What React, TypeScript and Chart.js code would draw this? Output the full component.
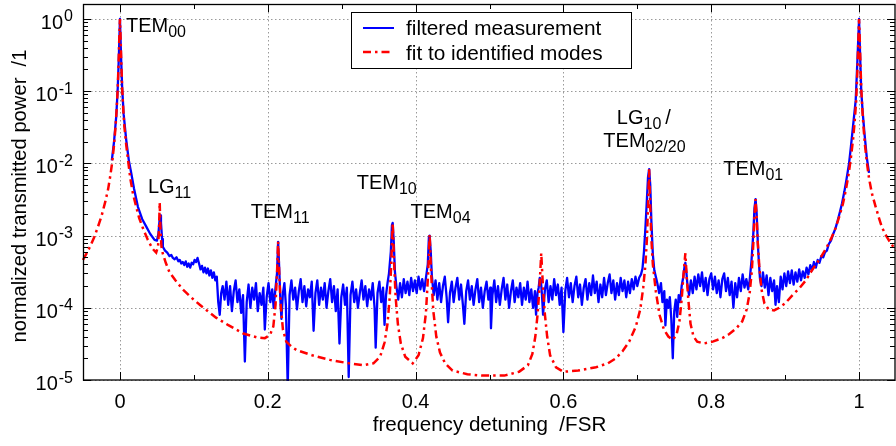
import React, { useEffect, useRef } from 'react';
import { Chart, registerables } from 'chart.js';

Chart.register(...registerables);

const X_MIN = -0.05;
const X_MAX = 1.05;
const Y_MIN = 1e-5;
const Y_MAX = 1.61;

// filtered measurement (x: detuning /FSR, y: normalized transmitted power)
const bluePoints: [number, number][] = [
  [-0.011, 0.011], [-0.008, 0.02], [-0.005, 0.045], [-0.003, 0.11], [-0.0015, 0.3], [0, 1.0], [0.0015, 0.3], [0.003, 0.11], [0.005, 0.048], [0.0085, 0.021],
  [0.012, 0.011], [0.0153, 0.0073], [0.019, 0.0045], [0.0243, 0.0025], [0.03, 0.0017], [0.0356, 0.00133], [0.041, 0.00105], [0.0468, 0.00087], [0.05, 0.00085], [0.052, 0.00105],
  [0.0535, 0.0016], [0.0545, 0.0019], [0.0555, 0.0015], [0.057, 0.0009], [0.058, 0.0007], [0.061, 0.00062], [0.064, 0.00058], [0.067, 0.00052], [0.0695, 0.00054], [0.0716, 0.00049],
  [0.074, 0.00047], [0.0765, 0.0005], [0.079, 0.00044], [0.081, 0.00046], [0.083, 0.00041], [0.085, 0.00043], [0.087, 0.00039], [0.089, 0.00044], [0.091, 0.00037], [0.093, 0.00041],
  [0.095, 0.00036], [0.097, 0.00042], [0.099, 0.0004], [0.101, 0.00046], [0.103, 0.00043], [0.105, 0.00049], [0.107, 0.00041], [0.109, 0.00034], [0.111, 0.00038], [0.113, 0.00031],
  [0.115, 0.00036], [0.117, 0.0003], [0.119, 0.00035], [0.121, 0.00028], [0.123, 0.00033], [0.125, 0.00026], [0.127, 0.00031], [0.129, 0.00024], [0.131, 0.00027], [0.133, 0.00012],
  [0.135, 0.00008], [0.137, 0.00016], [0.139, 0.0002], [0.1415, 1.3e-4], [0.144, 2.3e-4], [0.1465, 1.1e-4], [0.149, 2.0e-4], [0.1515, 0.9e-4], [0.154, 1.7e-4], [0.1565, 2.4e-4],
  [0.159, 1.2e-4], [0.1615, 1.8e-4], [0.164, 0.85e-4], [0.1665, 1.5e-4], [0.169, 1.8e-5], [0.1715, 1.2e-4], [0.174, 2.1e-4], [0.1765, 1.0e-4], [0.179, 1.9e-4], [0.1815, 1.3e-4],
  [0.184, 2.2e-4], [0.1865, 0.9e-4], [0.189, 1.6e-4], [0.1915, 1.1e-4], [0.194, 1.9e-4], [0.196, 5e-5], [0.1985, 1.4e-4], [0.201, 2.2e-4], [0.2035, 1.2e-4], [0.206, 1.8e-4],
  [0.208, 1.0e-4], [0.2105, 1.9e-4], [0.2125, 3e-4], [0.214, 8.2e-4], [0.2155, 3.5e-4], [0.217, 1.3e-4], [0.2185, 7e-5], [0.2205, 1.6e-4], [0.2225, 2.2e-4], [0.2245, 1.1e-4],
  [0.227, 8e-6], [0.2295, 1.5e-4], [0.232, 2.4e-4], [0.2345, 1.3e-4], [0.237, 1.9e-4], [0.2395, 0.95e-4], [0.242, 1.7e-4], [0.2445, 2.5e-4], [0.247, 1.2e-4], [0.2495, 2.0e-4],
  [0.252, 1.05e-4], [0.2545, 1.8e-4], [0.257, 1.4e-4], [0.2595, 2.3e-4], [0.262, 4.8e-5], [0.2645, 1.6e-4], [0.267, 2.4e-4], [0.2695, 1.1e-4], [0.272, 1.9e-4], [0.2745, 1.3e-4],
  [0.277, 2.2e-4], [0.2795, 1.0e-4], [0.282, 1.7e-4], [0.2845, 2.5e-4], [0.287, 1.2e-4], [0.2895, 2.0e-4], [0.292, 0.9e-4], [0.2945, 1.8e-4], [0.297, 3.2e-5], [0.2995, 1.4e-4],
  [0.302, 2.1e-4], [0.3045, 1.1e-4], [0.307, 1.9e-4], [0.3095, 1.1e-5], [0.312, 1.5e-4], [0.3145, 2.3e-4], [0.317, 1.2e-4], [0.3195, 1.8e-4], [0.322, 1.0e-4], [0.3245, 1.6e-4],
  [0.327, 2.4e-4], [0.3295, 1.3e-4], [0.332, 2.0e-4], [0.3345, 1.05e-4], [0.337, 1.8e-4], [0.3395, 1.3e-4], [0.342, 2.2e-4], [0.3445, 1.0e-4], [0.346, 2.8e-5], [0.3485, 1.6e-4],
  [0.351, 2.3e-4], [0.3535, 1.2e-4], [0.356, 1.9e-4], [0.358, 5.8e-5], [0.36, 1.5e-4], [0.362, 2.2e-4], [0.364, 3.0e-4], [0.3665, 6e-4], [0.368, 1.4e-3], [0.369, 1.5e-3],
  [0.3705, 8e-4], [0.372, 3.2e-4], [0.374, 2.0e-4], [0.3765, 1.3e-4], [0.379, 2.2e-4], [0.3815, 1.4e-4], [0.384, 2.5e-4], [0.3865, 1.6e-4], [0.389, 2.3e-4], [0.3915, 1.5e-4],
  [0.394, 2.6e-4], [0.3965, 1.7e-4], [0.399, 2.4e-4], [0.4015, 1.6e-4], [0.404, 2.7e-4], [0.4065, 1.8e-4], [0.409, 2.5e-4], [0.4115, 1.7e-4], [0.414, 2.6e-4], [0.4165, 4.0e-4],
  [0.418, 9.5e-4], [0.419, 1.0e-3], [0.4205, 6e-4], [0.422, 2.8e-4], [0.4245, 1.5e-4], [0.427, 2.4e-4], [0.4295, 1.3e-4], [0.432, 2.2e-4], [0.4345, 1.2e-4], [0.437, 2.0e-4],
  [0.4395, 2.7e-4], [0.442, 1.4e-4], [0.444, 6.3e-5], [0.4465, 1.6e-4], [0.449, 2.3e-4], [0.4515, 1.2e-4], [0.454, 1.9e-4], [0.4565, 2.6e-4], [0.459, 1.3e-4], [0.4615, 2.1e-4],
  [0.464, 1.1e-4], [0.466, 6e-5], [0.4685, 1.7e-4], [0.471, 2.4e-4], [0.4735, 1.3e-4], [0.476, 2.0e-4], [0.4785, 1.1e-4], [0.481, 1.8e-4], [0.4835, 2.5e-4], [0.486, 1.2e-4],
  [0.4885, 1.9e-4], [0.491, 1.0e-4], [0.4935, 1.7e-4], [0.496, 2.3e-4], [0.4985, 1.3e-4], [0.501, 1.9e-4], [0.502, 5.2e-5], [0.504, 1.5e-4], [0.5065, 2.4e-4], [0.509, 1.2e-4],
  [0.5115, 2.0e-4], [0.514, 1.1e-4], [0.5165, 1.8e-4], [0.519, 2.6e-4], [0.5215, 1.3e-4], [0.524, 2.1e-4], [0.5265, 1.0e-4], [0.529, 1.7e-4], [0.5315, 2.4e-4], [0.534, 1.2e-4],
  [0.5365, 1.9e-4], [0.539, 1.4e-4], [0.5415, 2.2e-4], [0.544, 1.1e-4], [0.5465, 1.9e-4], [0.549, 1.3e-4], [0.5515, 2.3e-4], [0.554, 1.2e-4], [0.5565, 1.8e-4], [0.559, 1.0e-4],
  [0.5615, 1.7e-4], [0.563, 8e-5], [0.565, 1.6e-4], [0.5665, 1.9e-4], [0.568, 2.6e-4], [0.5695, 2.4e-4], [0.571, 1.5e-4], [0.5725, 8e-5], [0.575, 1.8e-4], [0.5775, 2.4e-4],
  [0.58, 1.2e-4], [0.5825, 2.0e-4], [0.585, 1.3e-4], [0.5875, 2.5e-4], [0.59, 1.5e-4], [0.5925, 2.1e-4], [0.595, 1.1e-4], [0.5975, 1.9e-4], [0.6, 4.6e-5], [0.6025, 1.7e-4],
  [0.605, 2.6e-4], [0.6075, 1.4e-4], [0.61, 2.2e-4], [0.6125, 1.2e-4], [0.615, 2.0e-4], [0.6175, 2.7e-4], [0.62, 1.4e-4], [0.6225, 2.1e-4], [0.625, 1.1e-4], [0.6275, 1.9e-4],
  [0.63, 2.5e-4], [0.6325, 1.3e-4], [0.635, 2.2e-4], [0.6375, 1.5e-4], [0.64, 2.8e-4], [0.6425, 1.6e-4], [0.645, 2.3e-4], [0.6475, 1.2e-4], [0.65, 2.1e-4], [0.6525, 1.4e-4],
  [0.655, 2.6e-4], [0.6575, 1.5e-4], [0.66, 2.2e-4], [0.6625, 2.9e-4], [0.665, 1.6e-4], [0.6675, 2.4e-4], [0.67, 1.3e-4], [0.6725, 2.2e-4], [0.675, 1.5e-4], [0.6775, 2.6e-4],
  [0.68, 1.7e-4], [0.6825, 2.4e-4], [0.685, 1.4e-4], [0.6875, 2.3e-4], [0.69, 1.6e-4], [0.6925, 2.5e-4], [0.695, 1.8e-4], [0.6975, 2.7e-4], [0.7, 2.0e-4], [0.7025, 2.6e-4],
  [0.705, 2.9e-4], [0.707, 3.5e-4], [0.709, 6e-4], [0.711, 1.3e-3], [0.713, 3.2e-3], [0.7145, 6.5e-3], [0.716, 8.3e-3], [0.7175, 5e-3], [0.719, 1.6e-3], [0.721, 5.5e-4],
  [0.723, 3.3e-4], [0.725, 2.7e-4], [0.727, 2.2e-4], [0.7295, 1.6e-4], [0.732, 2.2e-4], [0.734, 1.2e-4], [0.7365, 1.7e-4], [0.738, 5.7e-5], [0.74, 1.3e-4], [0.742, 1.0e-4],
  [0.744, 1.4e-4], [0.746, 7e-5], [0.748, 2e-5], [0.75, 9e-5], [0.752, 1.3e-4], [0.754, 7.5e-5], [0.756, 1.5e-4], [0.758, 1.2e-4], [0.76, 2.0e-4], [0.762, 2.6e-4],
  [0.764, 3.8e-4], [0.765, 4.2e-4], [0.7665, 3.0e-4], [0.768, 2.0e-4], [0.77, 1.5e-4], [0.7725, 2.4e-4], [0.775, 1.6e-4], [0.7775, 2.7e-4], [0.78, 1.8e-4], [0.7825, 2.9e-4],
  [0.785, 2.0e-4], [0.7875, 3.1e-4], [0.79, 1.7e-4], [0.7925, 2.6e-4], [0.795, 1.5e-4], [0.7975, 2.5e-4], [0.8, 3.0e-4], [0.8025, 1.8e-4], [0.805, 2.7e-4], [0.8075, 1.6e-4],
  [0.81, 2.4e-4], [0.8125, 1.4e-4], [0.815, 2.5e-4], [0.8175, 3.0e-4], [0.82, 1.7e-4], [0.8225, 2.6e-4], [0.825, 1.5e-4], [0.8275, 2.3e-4], [0.83, 1.0e-4], [0.8325, 2.2e-4],
  [0.835, 1.4e-4], [0.8375, 2.6e-4], [0.84, 1.7e-4], [0.8425, 2.9e-4], [0.845, 1.9e-4], [0.8475, 2.5e-4], [0.85, 1.8e-4], [0.852, 2.4e-4], [0.8545, 4.5e-4], [0.857, 1.1e-3],
  [0.8585, 2.4e-3], [0.86, 3.2e-3], [0.8615, 2.0e-3], [0.863, 8e-4], [0.8645, 4.2e-4], [0.866, 2.5e-4], [0.868, 2.0e-4], [0.87, 3.1e-4], [0.8725, 1.9e-4], [0.875, 2.8e-4],
  [0.8775, 1.5e-4], [0.88, 2.6e-4], [0.8825, 1.7e-4], [0.885, 2.4e-4], [0.887, 1.1e-4], [0.889, 2.0e-4], [0.8915, 1.2e-4], [0.894, 2.7e-4], [0.8965, 1.8e-4], [0.899, 3.0e-4],
  [0.9015, 2.0e-4], [0.904, 3.2e-4], [0.9065, 2.2e-4], [0.909, 3.3e-4], [0.9115, 2.1e-4], [0.914, 3.1e-4], [0.9165, 2.3e-4], [0.919, 3.4e-4], [0.9215, 2.4e-4], [0.924, 3.2e-4],
  [0.9265, 2.6e-4], [0.929, 3.6e-4], [0.9315, 2.9e-4], [0.934, 3.9e-4], [0.9365, 3.3e-4], [0.939, 4.3e-4], [0.9415, 3.6e-4], [0.944, 4.6e-4], [0.9465, 4.2e-4], [0.949, 5.2e-4],
  [0.9515, 5.0e-4], [0.954, 5.9e-4], [0.9565, 6.2e-4], [0.959, 7.6e-4], [0.962, 8.5e-4], [0.965, 1.05e-3], [0.968, 1.25e-3], [0.971, 1.6e-3], [0.974, 2.1e-3], [0.977, 2.8e-3],
  [0.98, 4.0e-3], [0.983, 6.0e-3], [0.9865, 1.0e-2], [0.989, 1.7e-2], [0.9915, 3.0e-2], [0.9955, 7.5e-2], [0.998, 0.3], [1.0, 1.0], [1.0015, 0.3], [1.003, 0.1],
  [1.005, 0.05], [1.0075, 0.025], [1.0105, 0.012], [1.0135, 0.0074],
];

// fit to identified modes
const redPoints: [number, number][] = [
  [-0.05, 4.6e-4], [-0.045, 5.7e-4], [-0.04, 7.2e-4], [-0.035, 9.4e-4], [-0.03, 1.3e-3], [-0.025, 1.85e-3], [-0.02, 2.9e-3], [-0.016, 4.4e-3], [-0.013, 6.8e-3], [-0.0104, 1.05e-2],
  [-0.008, 1.8e-2], [-0.006, 3.2e-2], [-0.0045, 5.5e-2], [-0.003, 0.11], [-0.002, 0.22], [-0.001, 0.5], [0, 1.0], [0.001, 0.5], [0.002, 0.22], [0.003, 0.11],
  [0.0045, 0.055], [0.006, 0.032], [0.0085, 0.018], [0.011, 0.011], [0.014, 6.2e-3], [0.0176, 3.8e-3], [0.022, 2.5e-3], [0.026, 1.75e-3], [0.031, 1.27e-3], [0.0375, 8.8e-4],
  [0.044, 6.6e-4], [0.049, 5.8e-4], [0.0515, 7e-4], [0.0528, 1.2e-3], [0.0538, 2.86e-3], [0.0548, 1.2e-3], [0.0562, 7e-4], [0.058, 5.6e-4], [0.062, 4.2e-4], [0.067, 3.1e-4],
  [0.075, 2.4e-4], [0.085, 1.8e-4], [0.096, 1.4e-4], [0.108, 1.1e-4], [0.12, 8.8e-5], [0.13, 7.3e-5], [0.146, 5.8e-5], [0.167, 4.4e-5], [0.185, 3.9e-5], [0.196, 3.8e-5],
  [0.203, 4.2e-5], [0.2075, 5.5e-5], [0.2105, 1.1e-4], [0.2125, 3e-4], [0.214, 8.2e-4], [0.2155, 3e-4], [0.2175, 1.1e-4], [0.2205, 5e-5], [0.225, 3.4e-5], [0.232, 2.9e-5],
  [0.239, 2.6e-5], [0.26, 2.2e-5], [0.284, 1.9e-5], [0.31, 1.7e-5], [0.329, 1.6e-5], [0.343, 1.7e-5], [0.352, 2.1e-5], [0.358, 3.3e-5], [0.362, 6e-5], [0.365, 1.4e-4],
  [0.367, 4e-4], [0.369, 1.5e-3], [0.371, 4e-4], [0.373, 1.4e-4], [0.376, 6e-5], [0.38, 3.2e-5], [0.386, 2.1e-5], [0.396, 1.7e-5], [0.404, 2.2e-5], [0.41, 3.8e-5],
  [0.414, 8.5e-5], [0.417, 3e-4], [0.419, 1.03e-3], [0.421, 3e-4], [0.424, 9e-5], [0.428, 4e-5], [0.433, 2.4e-5], [0.44, 1.7e-5], [0.45, 1.35e-5], [0.47, 1.2e-5],
  [0.49, 1.15e-5], [0.52, 1.15e-5], [0.54, 1.3e-5], [0.552, 1.6e-5], [0.558, 2.3e-5], [0.562, 4e-5], [0.565, 8e-5], [0.5675, 1.8e-4], [0.57, 5.7e-4], [0.5725, 1.8e-4],
  [0.575, 8e-5], [0.578, 4e-5], [0.582, 2.2e-5], [0.59, 1.5e-5], [0.6, 1.3e-5], [0.62, 1.35e-5], [0.644, 1.5e-5], [0.66, 1.7e-5], [0.671, 2e-5], [0.68, 2.5e-5],
  [0.689, 3.4e-5], [0.698, 5.5e-5], [0.704, 9.5e-5], [0.708, 1.9e-4], [0.711, 4e-4], [0.713, 9e-4], [0.7145, 2.5e-3], [0.716, 8.3e-3], [0.7175, 2.5e-3], [0.719, 9e-4],
  [0.721, 4e-4], [0.725, 1.7e-4], [0.73, 8e-5], [0.736, 5e-5], [0.742, 4e-5], [0.748, 3.6e-5], [0.753, 4.2e-5], [0.757, 6.5e-5], [0.76, 1.3e-4], [0.762, 2.5e-4],
  [0.765, 5.7e-4], [0.767, 2.5e-4], [0.769, 1.3e-4], [0.772, 6e-5], [0.776, 4e-5], [0.781, 3.4e-5], [0.79, 3.2e-5], [0.802, 3.4e-5], [0.815, 3.8e-5], [0.824, 4.3e-5],
  [0.834, 5.2e-5], [0.842, 6.5e-5], [0.848, 9.5e-5], [0.852, 1.6e-4], [0.855, 3.3e-4], [0.857, 8e-4], [0.8585, 1.8e-3], [0.86, 3.2e-3], [0.8615, 1.8e-3], [0.863, 8e-4],
  [0.865, 3.8e-4], [0.868, 1.8e-4], [0.872, 1.15e-4], [0.878, 9.4e-5], [0.885, 9.2e-5], [0.892, 1e-4], [0.9, 1.15e-4], [0.91, 1.5e-4], [0.92, 1.9e-4], [0.928, 2.4e-4],
  [0.937, 3.4e-4], [0.946, 4.6e-4], [0.955, 6.5e-4], [0.962, 9e-4], [0.968, 1.25e-3], [0.973, 1.8e-3], [0.978, 2.7e-3], [0.982, 4.2e-3], [0.986, 7.2e-3], [0.989, 1.2e-2],
  [0.992, 2.2e-2], [0.994, 3.7e-2], [0.996, 7e-2], [0.998, 0.22], [0.999, 0.5], [1.0, 1.0], [1.001, 0.5], [1.002, 0.22], [1.003, 0.11], [1.0045, 0.055],
  [1.006, 0.032], [1.008, 0.018], [1.0105, 0.0105], [1.0135, 6.2e-3], [1.0175, 3.8e-3], [1.0225, 2.5e-3], [1.027, 1.75e-3], [1.031, 1.3e-3], [1.037, 9.8e-4], [1.043, 7.8e-4],
  [1.05, 6.2e-4],
];

const xMajorTicks = [0, 0.2, 0.4, 0.6, 0.8, 1];
const xTickLabels = ['0', '0.2', '0.4', '0.6', '0.8', '1'];
const xMinorTicks = [0.1, 0.3, 0.5, 0.7, 0.9];
const yDecades = [1, 1e-1, 1e-2, 1e-3, 1e-4, 1e-5];
const yTickExponents = ['0', '-1', '-2', '-3', '-4', '-5'];
const yMinorMultipliers = [2, 3, 4, 5, 6, 7, 8, 9];
const seriesLabels = ['filtered measurement', 'fit to identified modes'];
const xTitle = 'frequency detuning  /FSR';
const yTitle = 'normalized transmitted power  /1';

// mode labels, anchored in data coordinates (x detuning, y power at text baseline)
const modeLabelText = [
  { main: 'TEM', sub: '00', tail: '' },
  { main: 'LG', sub: '11', tail: '' },
  { main: 'TEM', sub: '11', tail: '' },
  { main: 'TEM', sub: '10', tail: '' },
  { main: 'TEM', sub: '04', tail: '' },
  { main: 'LG', sub: '10', tail: '/' },
  { main: 'TEM', sub: '02/20', tail: '' },
  { main: 'TEM', sub: '01', tail: '' },
];
const modeLabelX = [0.0081, 0.0378, 0.177, 0.3203, 0.3932, 0.6723, 0.654, 0.8162];
const modeLabelY = [0.66, 3.83e-3, 1.73e-3, 4.35e-3, 1.73e-3, 0.0351, 0.0171, 6.9e-3];

const FONT_FAMILY = '"Liberation Sans", Arial, Helvetica, sans-serif';
const f = (px: number) => `${px}px ${FONT_FAMILY}`;

const overlayPlugin = {
  id: 'gnuplotOverlay',
  beforeDatasetsDraw(chart: any) {
    const { ctx, chartArea: a, scales } = chart;
    const xs = scales.x;
    const ys = scales.y;
    ctx.save();
    ctx.strokeStyle = '#9a9a9a';
    ctx.lineWidth = 1;
    ctx.setLineDash([1.5, 2.5]);
    xMajorTicks.forEach((v) => {
      const px = Math.round(xs.getPixelForValue(v)) + 0.5;
      ctx.beginPath();
      ctx.moveTo(px, a.top);
      ctx.lineTo(px, a.bottom);
      ctx.stroke();
    });
    yDecades.forEach((v) => {
      const py = Math.round(ys.getPixelForValue(v)) + 0.5;
      ctx.beginPath();
      ctx.moveTo(a.left, py);
      ctx.lineTo(a.right, py);
      ctx.stroke();
    });
    ctx.restore();
  },
  afterDatasetsDraw(chart: any) {
    const { ctx, chartArea: a, scales } = chart;
    const xs = scales.x;
    const ys = scales.y;
    const right = a.right - 1;
    ctx.save();
    ctx.setLineDash([]);
    ctx.strokeStyle = '#000';
    ctx.fillStyle = '#000';

    // ticks
    ctx.lineWidth = 1;
    const vTick = (v: number, len: number) => {
      const px = Math.round(xs.getPixelForValue(v)) + 0.5;
      ctx.beginPath();
      ctx.moveTo(px, a.bottom);
      ctx.lineTo(px, a.bottom - len);
      ctx.moveTo(px, a.top);
      ctx.lineTo(px, a.top + len);
      ctx.stroke();
    };
    xMajorTicks.forEach((v) => vTick(v, 8));
    xMinorTicks.forEach((v) => vTick(v, 5));
    const hTick = (v: number, len: number) => {
      const py = Math.round(ys.getPixelForValue(v)) + 0.5;
      ctx.beginPath();
      ctx.moveTo(a.left, py);
      ctx.lineTo(a.left + len, py);
      ctx.moveTo(right, py);
      ctx.lineTo(right - len, py);
      ctx.stroke();
    };
    yDecades.forEach((d) => {
      hTick(d, 8);
      yMinorMultipliers.forEach((m) => {
        const v = d * m;
        if (v <= Y_MAX && v >= Y_MIN) hTick(v, 5);
      });
    });

    // border
    ctx.lineWidth = 1.3;
    ctx.strokeRect(a.left + 0.5, a.top + 0.5, right - a.left - 0.5, a.bottom - a.top - 0.5);

    // x tick labels
    ctx.font = f(20);
    ctx.textAlign = 'center';
    ctx.textBaseline = 'alphabetic';
    xMajorTicks.forEach((v, i) => {
      ctx.fillText(xTickLabels[i], xs.getPixelForValue(v), 408);
    });

    // y tick labels 10^n
    ctx.textAlign = 'left';
    yDecades.forEach((v, i) => {
      const py = ys.getPixelForValue(v);
      ctx.font = f(20);
      const w10 = ctx.measureText('10').width;
      ctx.font = f(16);
      const we = ctx.measureText(yTickExponents[i]).width;
      const x0 = 73 - (w10 + 1 + we);
      ctx.font = f(20);
      ctx.fillText('10', x0, py + 10);
      ctx.font = f(16);
      ctx.fillText(yTickExponents[i], x0 + w10 + 1, py + 2.5);
    });

    // axis titles
    ctx.font = f(20.6);
    ctx.textAlign = 'center';
    ctx.fillText(xTitle, (a.left + a.right) / 2, 431);
    ctx.save();
    ctx.translate(26, 196);
    ctx.rotate(-Math.PI / 2);
    ctx.font = f(20.2);
    ctx.fillText(yTitle, 0, 0);
    ctx.restore();

    // mode labels
    ctx.textAlign = 'left';
    modeLabelText.forEach((lab, i) => {
      const px = xs.getPixelForValue(modeLabelX[i]);
      const py = ys.getPixelForValue(modeLabelY[i]);
      ctx.font = f(20);
      ctx.fillText(lab.main, px, py);
      const wm = ctx.measureText(lab.main).width;
      ctx.font = f(16);
      ctx.fillText(lab.sub, px + wm, py + 5);
      const ws = ctx.measureText(lab.sub).width;
      if (lab.tail) {
        ctx.font = f(20);
        ctx.fillText(lab.tail, px + wm + ws + 4, py);
      }
    });

    // legend
    ctx.fillStyle = '#fff';
    ctx.fillRect(351, 12, 280, 56);
    ctx.fillStyle = '#000';
    ctx.lineWidth = 1;
    ctx.strokeRect(351.5, 12.5, 280, 56);
    ctx.strokeStyle = '#0000ff';
    ctx.lineWidth = 2;
    ctx.beginPath();
    ctx.moveTo(363, 28);
    ctx.lineTo(394, 28);
    ctx.stroke();
    ctx.strokeStyle = '#ff0000';
    ctx.lineWidth = 2.5;
    ctx.setLineDash([8, 4, 2.5, 4]);
    ctx.beginPath();
    ctx.moveTo(363, 52);
    ctx.lineTo(392, 52);
    ctx.stroke();
    ctx.setLineDash([]);
    ctx.font = f(20.8);
    ctx.textAlign = 'left';
    ctx.fillText(seriesLabels[0], 406, 35);
    ctx.fillText(seriesLabels[1], 406, 59.5);

    ctx.restore();
  },
};

export default function App() {
  const canvasRef = useRef<HTMLCanvasElement | null>(null);

  useEffect(() => {
    const canvas = canvasRef.current;
    if (!canvas) return;
    const chart = new Chart(canvas, {
      type: 'line',
      data: {
        datasets: [
          {
            label: seriesLabels[1],
            data: redPoints.map(([x, y]) => ({ x, y })),
            borderColor: '#ff0000',
            borderWidth: 2.5,
            borderDash: [8, 4, 2.5, 4],
            borderCapStyle: 'butt',
            pointRadius: 0,
            tension: 0,
            fill: false,
            clip: 1,
          },
          {
            label: seriesLabels[0],
            data: bluePoints.map(([x, y]) => ({ x, y })),
            borderColor: '#0000ff',
            borderWidth: 2.3,
            borderJoinStyle: 'round',
            pointRadius: 0,
            tension: 0,
            fill: false,
            clip: 1,
          },
        ],
      },
      options: {
        responsive: false,
        animation: false,
        devicePixelRatio: 1,
        parsing: false as any,
        normalized: true,
        layout: { padding: { top: 4, right: 0, left: 0, bottom: 0 } },
        plugins: {
          legend: { display: false },
          tooltip: { enabled: false },
          title: { display: false },
        },
        scales: {
          x: {
            type: 'linear',
            min: X_MIN,
            max: X_MAX,
            grid: { display: false },
            border: { display: false },
            ticks: { display: false },
            afterFit: (s: any) => {
              s.height = 66;
            },
          },
          y: {
            type: 'logarithmic',
            min: Y_MIN,
            max: Y_MAX,
            grid: { display: false },
            border: { display: false },
            ticks: { display: false },
            afterFit: (s: any) => {
              s.width = 83;
            },
          },
        },
      } as any,
      plugins: [overlayPlugin],
    });
    return () => chart.destroy();
  }, []);

  return (
    <div style={{ position: 'fixed', left: 0, top: 0, width: 896, height: 446, background: '#fff' }}>
      <canvas ref={canvasRef} width={896} height={446} style={{ display: 'block', width: 896, height: 446 }} />
    </div>
  );
}
